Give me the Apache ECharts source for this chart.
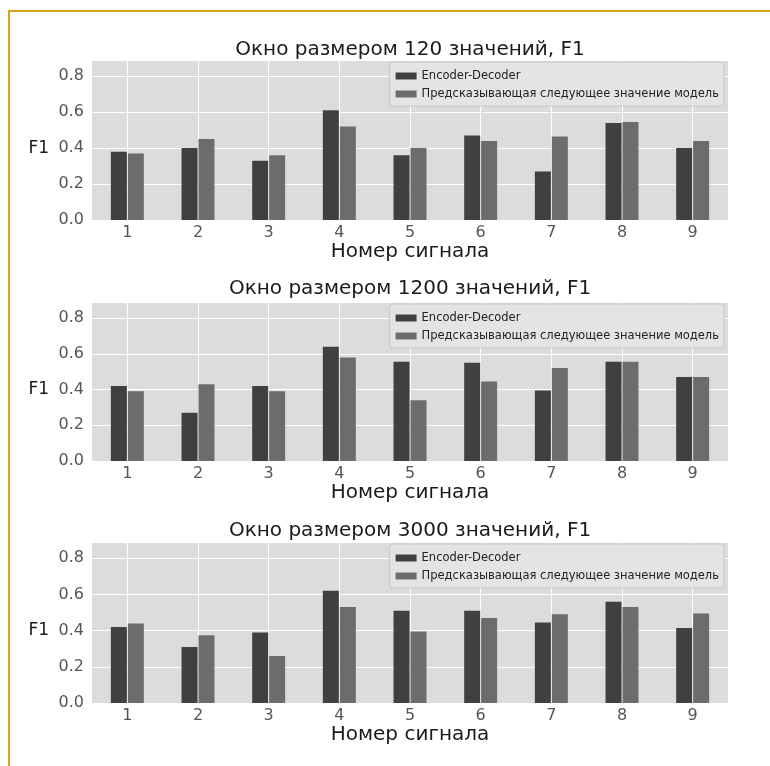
<!DOCTYPE html>
<html>
<head>
<meta charset="utf-8">
<script src="https://cdn.jsdelivr.net/npm/echarts@6/dist/echarts.min.js"></script>
<style>
  html, body { margin: 0; padding: 0; background: #fff; }
  #frame { position: absolute; left: 8px; top: 10px; right: 0; bottom: 0;
           border-top: 2px solid #d9a11a; border-left: 2px solid #d9a11a; }
  #chart { position: absolute; left: 0; top: 0; width: 770px; height: 766px; }
</style>
</head>
<body>
<div id="frame"></div>
<div id="chart"></div>
<script>
'use strict';

// номера сигналов
var signals = ['1', '2', '3', '4', '5', '6', '7', '8', '9'];
var seriesNames = ['Encoder-Decoder', 'Предсказывающая следующее значение модель'];
var titles = ['Окно размером 120 значений, F1', 'Окно размером 1200 значений, F1', 'Окно размером 3000 значений, F1'];

// окно 120
var encDec120 = [0.38, 0.40, 0.33, 0.61, 0.36, 0.47, 0.27, 0.54, 0.40];
var predict120 = [0.37, 0.45, 0.36, 0.52, 0.40, 0.44, 0.465, 0.545, 0.44];
// окно 1200
var encDec1200 = [0.42, 0.27, 0.42, 0.64, 0.555, 0.55, 0.395, 0.555, 0.47];
var predict1200 = [0.39, 0.43, 0.39, 0.58, 0.34, 0.445, 0.52, 0.555, 0.47];
// окно 3000
var encDec3000 = [0.42, 0.31, 0.39, 0.62, 0.51, 0.51, 0.445, 0.56, 0.415];
var predict3000 = [0.44, 0.375, 0.26, 0.53, 0.395, 0.47, 0.49, 0.53, 0.495];

var panels = [
    {title: titles[0], enc: encDec120, pred: predict120, top: 60, height: 160, titleTop: 40},
    {title: titles[1], enc: encDec1200, pred: predict1200, top: 302, height: 159, titleTop: 279},
    {title: titles[2], enc: encDec3000, pred: predict3000, top: 542, height: 161, titleTop: 521}
];

var font = 'DejaVu Sans';
var option = {
    animation: false,
    title: [], grid: [], xAxis: [], yAxis: [], legend: [], series: []
};

panels.forEach((p, i) => {
    option.title.push({
        text: p.title, left: 410, top: p.titleTop, textAlign: 'center', padding: 0,
        textStyle: {fontFamily: font, fontSize: 20, fontWeight: 'normal', color: '#1a1a1a'}
    });
    option.grid.push({
        left: 92, width: 636, top: p.top, height: p.height,
        show: true, backgroundColor: '#dcdcdc', borderWidth: 0
    });
    option.xAxis.push({
        type: 'category', gridIndex: i, data: signals,
        axisLine: {show: false}, axisTick: {show: false},
        axisLabel: {fontFamily: font, fontSize: 16, color: '#555', margin: 5},
        splitLine: {show: true, alignWithLabel: true, lineStyle: {color: '#fff', width: 1}},
        name: 'Номер сигнала', nameLocation: 'middle', nameGap: 22,
        nameTextStyle: {fontFamily: font, fontSize: 20, color: '#1a1a1a'}
    });
    option.yAxis.push({
        type: 'value', gridIndex: i, min: 0, max: 0.89, interval: 0.2,
        axisLine: {show: false}, axisTick: {show: false},
        axisLabel: {fontFamily: font, fontSize: 16, color: '#555', margin: 8,
            showMaxLabel: false, formatter: v => v.toFixed(1)},
        splitLine: {show: true, lineStyle: {color: '#fff', width: 1}},
        name: 'F1', nameLocation: 'middle', nameRotate: 0, nameGap: 43,
        nameTextStyle: {fontFamily: font, fontSize: 17, color: '#1a1a1a', verticalAlign: 'top'}
    });
    option.legend.push({
        data: seriesNames, orient: 'vertical', right: 46, top: p.top + 2,
        padding: [7, 5, 5, 6], itemGap: 4, itemWidth: 21, itemHeight: 7,
        backgroundColor: '#e4e4e4', borderColor: '#c6c6c6', borderWidth: 1, borderRadius: 3,
        icon: 'rect', selectedMode: false,
        textStyle: {fontFamily: font, fontSize: 11.5, color: '#222', lineHeight: 14}
    });
    option.series.push({
        name: seriesNames[0], type: 'bar', xAxisIndex: i, yAxisIndex: i,
        data: p.enc, barWidth: 16, barGap: '6%', itemStyle: {color: '#404040'}
    });
    option.series.push({
        name: seriesNames[1], type: 'bar', xAxisIndex: i, yAxisIndex: i,
        data: p.pred, barWidth: 16, barGap: '6%', itemStyle: {color: '#6c6c6c'}
    });
});

var chart = echarts.init(document.getElementById('chart'));
chart.setOption(option);
</script>
</body>
</html>
